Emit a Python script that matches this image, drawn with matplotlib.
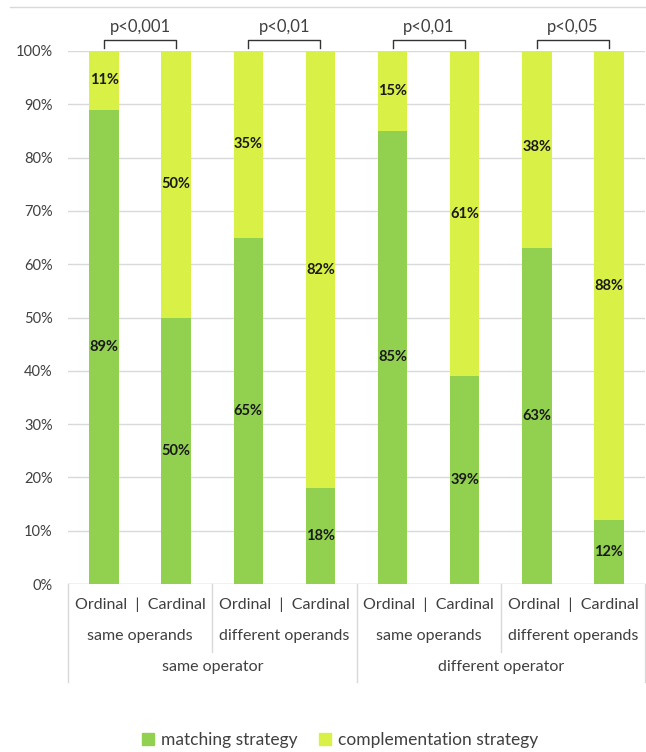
import matplotlib
matplotlib.use("Agg")
import matplotlib.pyplot as plt
from matplotlib.lines import Line2D
from matplotlib.patches import Patch
from matplotlib.transforms import blended_transform_factory
import numpy as np

# ── Data ──────────────────────────────────────────────────────────────────────
bar_labels   = ["Ordinal", "Cardinal"] * 4
operands     = ["same operands", "different operands", "same operands", "different operands"]
operators    = ["same operator", "different operator"]
matching     = [89, 50, 65, 18, 85, 39, 63, 12]
complement   = [11, 50, 35, 82, 15, 61, 38, 88]
p_values     = ["p<0,001", "p<0,01", "p<0,01", "p<0,05"]

GREEN  = "#92D050"
YELLOW = "#D9F046"
GRID   = "#D9D9D9"
TXT    = "#404040"

plt.rcParams["font.family"] = ["Lato", "DejaVu Sans"]

fig = plt.figure(figsize=(6.46, 7.52), dpi=100)
ax = fig.add_axes([68 / 646, 1 - 584 / 752, 577 / 646, 533 / 752])

x = np.arange(len(matching))
w = 0.41
ax.bar(x, matching, w, color=GREEN, zorder=2, label="matching strategy")
ax.bar(x, complement, w, bottom=matching, color=YELLOW, zorder=2,
       label="complementation strategy")

for i in x:
    ax.text(i, matching[i] / 2, f"{matching[i]}%", ha="center", va="center",
            fontsize=10.5, fontweight="bold", color="#1a1a1a", zorder=3)
    ax.text(i, matching[i] + complement[i] / 2, f"{complement[i]}%",
            ha="center", va="center", fontsize=10.5, fontweight="bold",
            color="#1a1a1a", zorder=3)

ax.set_xlim(-0.5, len(matching) - 0.5)
ax.set_ylim(0, 100)
ax.set_yticks(range(0, 101, 10))
ax.set_yticklabels([f"{v}%" for v in range(0, 101, 10)], fontsize=10.5, color=TXT)
ax.tick_params(axis="y", length=0, pad=11)
ax.set_xticks([])
ax.yaxis.grid(True, color=GRID, lw=1, zorder=0)
for s in ax.spines.values():
    s.set_visible(False)
ax.axhline(0, color=GRID, lw=1, zorder=1)

# ── Multi-level category axis ─────────────────────────────────────────────────
tr = blended_transform_factory(ax.transData, fig.transFigure)
def fy(py):
    return 1 - py / 752

for g in range(4):
    c = 2 * g + 0.5
    ax.text(c, fy(605), f"{bar_labels[2*g]}  |  {bar_labels[2*g+1]}",
            transform=tr, ha="center", va="center", fontsize=11.5, color=TXT)
    ax.text(c, fy(636), operands[g], transform=tr, ha="center", va="center",
            fontsize=11.5, color=TXT)
for k, op in enumerate(operators):
    ax.text(4 * k + 1.5, fy(667), op, transform=tr, ha="center", va="center",
            fontsize=11.5, color=TXT)

for xv, bottom in [(-0.5, 682), (1.5, 652), (3.5, 682), (5.5, 652), (7.5, 682)]:
    fig.add_artist(Line2D([xv, xv], [fy(584), fy(bottom)], transform=tr,
                          color=GRID, lw=1))

# ── Significance brackets ─────────────────────────────────────────────────────
for g, p in enumerate(p_values):
    a, b = 2 * g, 2 * g + 1
    fig.add_artist(Line2D([a, a, b, b], [fy(48), fy(40), fy(40), fy(48)],
                          transform=tr, color="#333333", lw=1))
    ax.text(2 * g + 0.5, fy(27), p, transform=tr, ha="center", va="center",
            fontsize=12, color=TXT)

# top border line
fig.add_artist(Line2D([10 / 646, 1], [fy(7), fy(7)], transform=fig.transFigure,
                      color=GRID, lw=1))

handles = [Patch(color=GREEN, label="matching strategy"),
           Patch(color=YELLOW, label="complementation strategy")]
fig.legend(handles=handles, loc="center", bbox_to_anchor=(340 / 646, fy(740)),
           ncol=2, frameon=False, fontsize=12.5, handlelength=0.7, handleheight=0.7,
           handletextpad=0.4, columnspacing=1.2, labelcolor=TXT)

fig.savefig("out.png", dpi=100)
